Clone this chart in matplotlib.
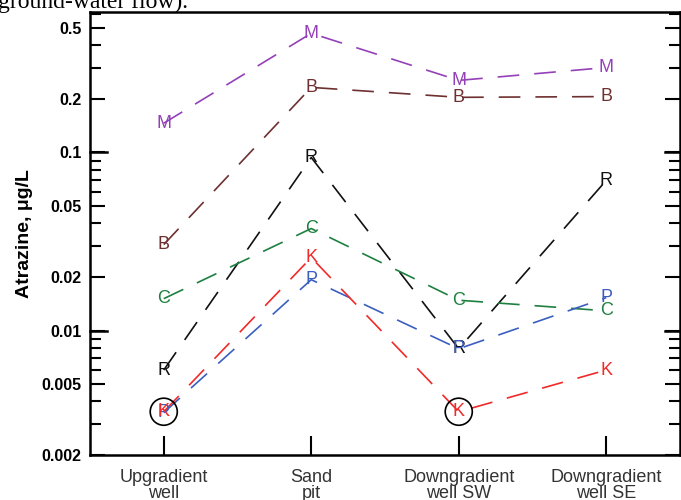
import matplotlib
matplotlib.use("Agg")
import matplotlib.pyplot as plt
import numpy as np

categories = ["Upgradient\nwell", "Sand\npit", "Downgradient\nwell SW", "Downgradient\nwell SE"]
series_names = ["M", "B", "R", "C", "P", "K"]
M = [0.146, 0.467, 0.254, 0.30]
B = [0.0304, 0.232, 0.204, 0.206]
R = [0.0060, 0.0937, 0.0079, 0.0697]
C = [0.0151, 0.0374, 0.0148, 0.0129]
P = [0.00346, 0.0193, 0.0079, 0.0153]
K = [0.0035, 0.0257, 0.0035, 0.0060]
circled = [(0, 0.0035), (2, 0.0035)]
colors = {"M": "#9440b8", "B": "#6e3030", "R": "#111111",
          "C": "#1e8040", "P": "#3a5fc0", "K": "#f02a2a"}
ytick_vals = [0.002, 0.005, 0.01, 0.02, 0.05, 0.1, 0.2, 0.5]
ytick_labels = ["0.002", "0.005", "0.01", "0.02", "0.05", "0.1", "0.2", "0.5"]

data = {"M": M, "B": B, "R": R, "C": C, "P": P, "K": K}

fig = plt.figure(figsize=(6.81, 5.0), dpi=100)
ax = fig.add_axes([90/681, 45/500, (680-90)/681, (455-12)/500])

x = np.arange(len(categories))
for name in series_names:
    (ln,) = ax.plot(x, data[name], color=colors[name], lw=1.2, zorder=2)
    ln.set_dashes((13, 9))
    for xi, yi in zip(x, data[name]):
        ax.text(xi, yi, name, color=colors[name], ha="center", va="center",
                fontsize=13, family="Liberation Sans", zorder=3)

cx = [c[0] for c in circled]
cy = [c[1] for c in circled]
ax.scatter(cx, cy, s=380, facecolors="none", edgecolors="black", linewidths=1.2, zorder=4)

ax.set_yscale("log")
ax.set_ylim(0.002, 0.615)
ax.set_xlim(-0.5, 3.5)
ax.set_yticks(ytick_vals)
ax.set_yticklabels(ytick_labels, fontweight="bold", fontsize=11.5, family="Liberation Sans")
ax.yaxis.set_minor_locator(matplotlib.ticker.LogLocator(base=10, subs=np.arange(2, 10)))
ax.yaxis.set_minor_formatter(matplotlib.ticker.NullFormatter())
ax.set_xticks(x)
ax.set_xticklabels(categories, fontsize=13, family="Liberation Sans", color="#333333", linespacing=0.95)

ax.tick_params(axis="y", which="both", direction="in", left=True, right=True, width=1.5, length=11, pad=6)
ax.tick_params(axis="y", which="minor", length=8)
ax.tick_params(axis="x", which="both", direction="in", bottom=True, top=False, width=1.5, length=14, pad=10)
# emphasize decade ticks
for val in [0.01, 0.1]:
    ax.plot([-0.5, -0.5 + 17/148], [val, val], color="black", lw=1.8, clip_on=False, zorder=5)
    ax.plot([3.5 - 15/148, 3.5], [val, val], color="black", lw=1.8, clip_on=False, zorder=5)

for s in ax.spines.values():
    s.set_linewidth(1.8)

ax.set_ylabel("Atrazine, \u03bcg/L", fontsize=14, fontweight="bold", family="Liberation Sans", labelpad=6)

fig.text(188/681, 1 - 8/500, "ground-water flow).", ha="right", va="baseline",
         fontsize=17, family="Liberation Serif")

fig.savefig("out.png", dpi=100)
